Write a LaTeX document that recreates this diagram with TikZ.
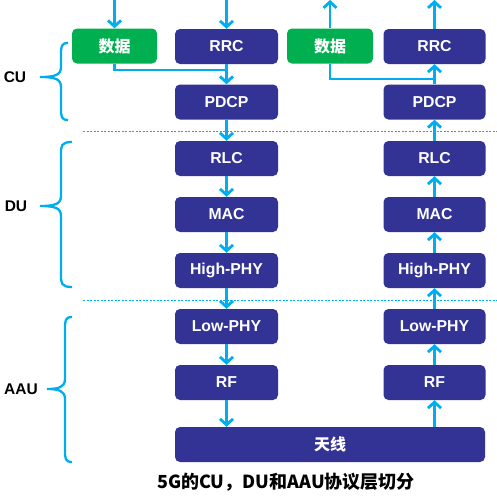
\documentclass[tikz,border=0pt]{standalone}
\usepackage{fontspec}
\setmainfont{Liberation Sans}
\newfontfamily\cjk{Noto Sans CJK SC}
\usetikzlibrary{arrows.meta}
\definecolor{boxblue}{RGB}{51,51,150}
\definecolor{boxgreen}{RGB}{0,176,80}
\definecolor{cyanline}{RGB}{0,174,239}
\newcommand\MyBrace[6]{%
  \draw[brc] ({#1},{#4}) .. controls ({#2},{#4}) and ({#2},{#4+4}) .. ({#2},{#4+12})
    -- ({#2},{#5-10}) .. controls ({#2},{#5-2}) and ({#2-6},{#5}) .. ({#3},{#5})
    .. controls ({#2-6},{#5}) and ({#2},{#5+2}) .. ({#2},{#5+10})
    -- ({#2},{#6-12}) .. controls ({#2},{#6-4}) and ({#2},{#6}) .. ({#1},{#6});}
\begin{document}
\begin{tikzpicture}[x=1pt,y=-1pt,
  bx/.style={fill=boxblue,rounded corners=5pt,text=white,font=\fontsize{15.8}{18}\selectfont\bfseries,inner sep=0pt,minimum height=35pt},
  lcol/.style={bx,minimum width=103pt},
  rcol/.style={bx,minimum width=102pt},
  gbx/.style={bx,fill=boxgreen,font=\fontsize{16}{18}\selectfont\cjk\bfseries},
  arr/.style={draw=cyanline,line width=2.8pt,-{Straight Barb[length=6pt,width=13pt]}},
  ln/.style={draw=cyanline,line width=2.8pt},
  brc/.style={draw=cyanline,line width=2.3pt},
  sep/.style={draw=cyanline,line width=0.9pt,dash pattern=on 2pt off 1.5pt},
  lab/.style={font=\fontsize{15.5}{17}\selectfont\bfseries,text=black},
]
\useasboundingbox (0,0) rectangle (497,501);
\fill[white] (0,0) rectangle (497,501);

% left column
\node[gbx,minimum width=85pt] (d1) at (114.5,46) {数据};
\node[lcol] (rrc1) at (226.5,46.5) {RRC};
\node[lcol] (pdcp1) at (226.5,102) {PDCP};
\node[lcol] (rlc1) at (226.5,158.5) {RLC};
\node[lcol] (mac1) at (226.5,214.5) {MAC};
\node[lcol] (hphy1) at (226.5,270.5) {High-PHY};
\node[lcol] (lphy1) at (226.5,326.5) {Low-PHY};
\node[lcol] (rf1) at (226.5,382.5) {RF};

% right column
\node[gbx,minimum width=86pt] (d2) at (330,46) {数据};
\node[rcol] (rrc2) at (434.5,46.5) {RRC};
\node[rcol] (pdcp2) at (434.5,102) {PDCP};
\node[rcol] (rlc2) at (434.5,158.5) {RLC};
\node[rcol] (mac2) at (434.5,214.5) {MAC};
\node[rcol] (hphy2) at (434.5,270.5) {High-PHY};
\node[rcol] (lphy2) at (434.5,326.5) {Low-PHY};
\node[rcol] (rf2) at (434.5,382.5) {RF};

% antenna
\node[bx,minimum width=310pt,font=\fontsize{16}{18}\selectfont\cjk\bfseries] (ant) at (330,444.5) {天线};

% separators
\coordinate (s1a) at (83,131); \coordinate (s1b) at (497,131);
\coordinate (s2a) at (83,300); \coordinate (s2b) at (497,300);
\draw[sep] (s1a) -- (s1b);
\draw[sep] (s2a) -- (s2b);

% top in/out points
\coordinate (tin1) at (d1.north |- 0,0);
\coordinate (tin2) at (rrc1.north |- 0,0);
\coordinate (tout1) at (d2.north |- 0,0);
\coordinate (tout2) at (rrc2.north |- 0,0);
\coordinate (j1) at (rrc1.south |- 0,70);
\coordinate (j2) at (rrc2.south |- 0,79);

% left arrows (down)
\draw[arr] (tin1) -- (d1.north);
\draw[arr] (tin2) -- (rrc1.north);
\draw[ln] (d1.south) |- (j1);
\draw[arr] (rrc1.south) -- (pdcp1.north);
\draw[arr] (pdcp1.south) -- (rlc1.north);
\draw[arr] (rlc1.south) -- (mac1.north);
\draw[arr] (mac1.south) -- (hphy1.north);
\draw[arr] (hphy1.south) -- (lphy1.north);
\draw[arr] (lphy1.south) -- (rf1.north);
\draw[arr] (rf1.south) -- (rf1.south |- ant.north);

% right arrows (up)
\draw[arr] (d2.north) -- (tout1);
\draw[arr] (rrc2.north) -- (tout2);
\draw[ln] (d2.south) |- (j2);
\draw[arr] (pdcp2.north) -- (rrc2.south);
\draw[arr] (rlc2.north) -- (pdcp2.south);
\draw[arr] (mac2.north) -- (rlc2.south);
\draw[arr] (hphy2.north) -- (mac2.south);
\draw[arr] (lphy2.north) -- (hphy2.south);
\draw[arr] (rf2.north) -- (lphy2.south);
\draw[arr] (rf2.south |- ant.north) -- (rf2.south);

% braces
\MyBrace{68}{61}{40}{43}{77}{120}
\MyBrace{72}{61}{40}{142}{206}{287}
\MyBrace{72}{65}{47}{317}{389}{462}
\node[lab] (cu) at (15,77) {CU};
\node[lab] (du) at (16,206) {DU};
\node[lab] (aau) at (21,389) {AAU};

% caption
\node[font=\fontsize{18}{20}\selectfont\cjk\bfseries] (cap) at (286,482) {5G的CU，DU和AAU协议层切分};
\end{tikzpicture}
\end{document}
